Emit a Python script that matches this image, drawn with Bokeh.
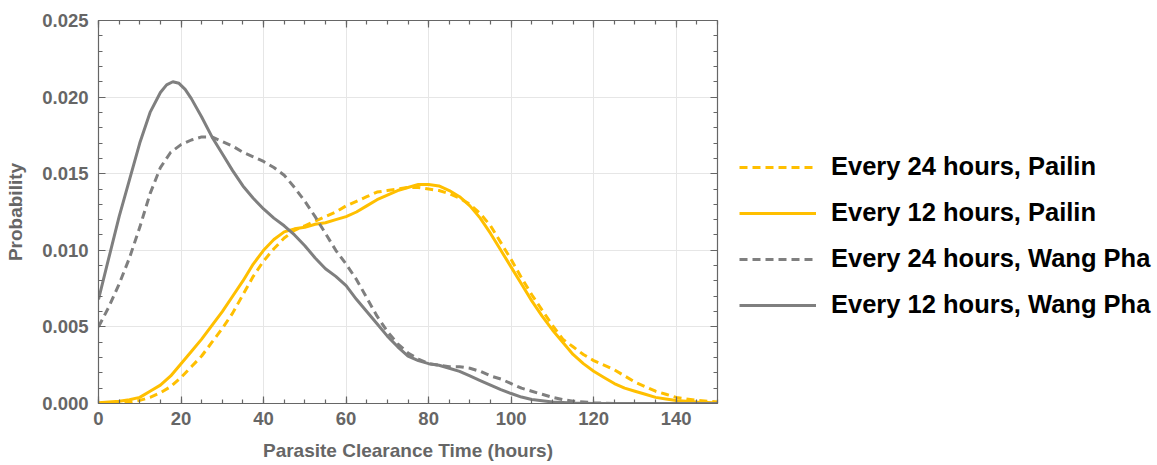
from bokeh.plotting import figure
from bokeh.layouts import row
from bokeh.models import (Range1d, LinearAxis, FixedTicker, PrintfTickFormatter,
                          Legend, LegendItem, CustomLabelingPolicy)
from bokeh.embed import file_html
from bokeh.resources import INLINE

# ---- data ----
t_gray_solid = [0, 2.5, 5, 7.5, 10, 12.5, 15, 16.5, 18, 19.5, 21, 22.5, 25, 27.5, 30, 32.5, 35, 37.5,
                40, 42.5, 45, 47.5, 50, 52.5, 55, 57.5, 60, 62.5, 65, 67.5, 70, 72.5, 75,
                77.5, 80, 82.5, 85, 87.5, 90, 92.5, 95, 97.5, 100, 102.5, 105, 110, 115, 120, 150]
p_gray_solid = [0.0068, 0.0095, 0.0122, 0.0146, 0.0170, 0.0190, 0.0203, 0.0208, 0.0210, 0.0209,
                0.0205, 0.0199,
                0.0187, 0.0174, 0.0163, 0.0152, 0.0142, 0.0134, 0.0127, 0.0121, 0.0116, 0.0110,
                0.0103, 0.0095, 0.0088, 0.0083, 0.0077, 0.0068, 0.0060, 0.0052, 0.0044, 0.0037,
                0.0031, 0.0028, 0.0026, 0.0025, 0.0023, 0.0021, 0.0018, 0.0015, 0.0012, 0.0009,
                0.00065, 0.00042, 0.00026, 0.0001, 0.00003, 0.0, 0.0]

t_gray_dash = [0, 2.5, 5, 7.5, 10, 12.5, 15, 17.5, 20, 22.5, 25, 27.5, 30, 32.5, 35, 37.5, 40,
               42.5, 45, 47.5, 50, 52.5, 55, 57.5, 60, 62.5, 65, 67.5, 70, 72.5, 75, 77.5, 80,
               82.5, 85, 87.5, 90, 92.5, 95, 97.5, 100, 102.5, 105, 107.5, 110, 112.5, 115,
               120, 125, 150]
p_gray_dash = [0.0050, 0.0063, 0.0078, 0.0095, 0.0115, 0.0137, 0.0154, 0.0164, 0.0169, 0.0172,
               0.0174, 0.0174, 0.0171, 0.0168, 0.0164, 0.0161, 0.0158, 0.0154, 0.0149, 0.0141,
               0.0132, 0.0122, 0.0111, 0.0100, 0.0091, 0.0081, 0.0069, 0.0057, 0.0047, 0.0039,
               0.0033, 0.0029, 0.0026, 0.0025, 0.0024, 0.0024, 0.0023, 0.0021, 0.0018, 0.0016,
               0.0013, 0.0010, 0.0008, 0.0006, 0.0004, 0.00025, 0.00015, 0.00005, 0.0, 0.0]

t_yel_solid = [0, 2.5, 5, 7.5, 10, 12.5, 15, 17.5, 20, 22.5, 25, 27.5, 30, 32.5, 35, 37.5, 40,
               42.5, 45, 47.5, 50, 52.5, 55, 57.5, 60, 62.5, 65, 67.5, 70, 72.5, 75, 77.5, 80,
               82.5, 85, 87.5, 90, 92.5, 95, 97.5, 100, 102.5, 105, 107.5, 110, 112.5, 115,
               117.5, 120, 122.5, 125, 127.5, 130, 132.5, 135, 137.5, 140, 145, 150]
p_yel_solid = [0.00005, 0.0001, 0.00015, 0.00025, 0.0004, 0.0008, 0.0012, 0.0018, 0.0026, 0.0034,
               0.0042, 0.0051, 0.0060, 0.0070, 0.0080, 0.0091, 0.0100, 0.0107, 0.0112, 0.0114,
               0.0115, 0.0117, 0.0118, 0.0120, 0.0122, 0.0125, 0.0129, 0.0133, 0.0136, 0.0139,
               0.0141, 0.0143, 0.0143, 0.0142, 0.0139, 0.0135, 0.0129, 0.0121, 0.0111, 0.0100,
               0.0089, 0.0078, 0.0067, 0.0057, 0.0048, 0.0040, 0.0032, 0.0026, 0.0021, 0.0017,
               0.0013, 0.0010, 0.0008, 0.0006, 0.0004, 0.0003, 0.0002, 0.0001, 0.00003]

t_yel_dash = [0, 2.5, 5, 7.5, 10, 12.5, 15, 17.5, 20, 22.5, 25, 27.5, 30, 32.5, 35, 37.5, 40,
              42.5, 45, 47.5, 50, 52.5, 55, 57.5, 60, 62.5, 65, 67.5, 70, 72.5, 75, 77.5, 80,
              82.5, 85, 87.5, 90, 92.5, 95, 97.5, 100, 102.5, 105, 107.5, 110, 112.5, 115,
              117.5, 120, 122.5, 125, 127.5, 130, 132.5, 135, 137.5, 140, 145, 150]
p_yel_dash = [0.0, 0.00002, 0.00005, 0.0001, 0.0002, 0.0004, 0.0007, 0.0011, 0.0017, 0.0024,
              0.0031, 0.0040, 0.0049, 0.0059, 0.0071, 0.0083, 0.0093, 0.0101, 0.0108, 0.0113,
              0.0116, 0.0119, 0.0122, 0.0125, 0.0129, 0.0132, 0.0135, 0.0138, 0.0139, 0.0140,
              0.0141, 0.0141, 0.0140, 0.0139, 0.0137, 0.0134, 0.0130, 0.0124, 0.0116, 0.0105,
              0.0094, 0.0082, 0.0071, 0.0061, 0.0051, 0.0042, 0.0037, 0.0032, 0.0028, 0.0025,
              0.0022, 0.0018, 0.0014, 0.0011, 0.0008, 0.0006, 0.0004, 0.0002, 0.0001]

labels = ["Every 24 hours, Pailin", "Every 12 hours, Pailin",
          "Every 24 hours, Wang Pha", "Every 12 hours, Wang Pha"]
x_major = [0, 20, 40, 60, 80, 100, 120, 140]
x_minor = [v for v in range(0, 151, 5)]
y_major = [0.0, 0.005, 0.010, 0.015, 0.020, 0.025]
y_minor = [i / 1000 for i in range(0, 26)]

YEL = "#FFBF00"
GRAY = "#7F7F7F"
AX = "#666666"
FONT = "Liberation Sans"

series = [(t_yel_dash, p_yel_dash, YEL, "8 5"),
          (t_yel_solid, p_yel_solid, YEL, "solid"),
          (t_gray_dash, p_gray_dash, GRAY, "8 5"),
          (t_gray_solid, p_gray_solid, GRAY, "solid")]

# ---------------- main plot ----------------
p = figure(width=731, height=465, output_backend="svg", toolbar_location=None,
           x_range=Range1d(0, 150), y_range=Range1d(0, 0.025),
           min_border_left=98, min_border_right=14, min_border_top=20, min_border_bottom=62)
p.outline_line_color = None
p.background_fill_color = "white"

for t, v, c, d in series:
    p.line(t, v, color=c, line_width=3, line_dash=d)

hide_all = CustomLabelingPolicy(code="""
const out = [];
for (const i of indices) out.push(i);
for (const i of out) indices.unset(i);
return indices;
""")


def style_axis(ax, ticks, minor, fmt, show_labels):
    ax.ticker = FixedTicker(ticks=ticks, minor_ticks=minor)
    ax.formatter = PrintfTickFormatter(format=fmt)
    ax.axis_line_color = AX
    ax.axis_line_width = 1.2
    ax.major_tick_line_color = AX
    ax.minor_tick_line_color = AX
    ax.major_tick_line_width = 1.2
    ax.minor_tick_line_width = 1.2
    ax.major_tick_in = 7
    ax.major_tick_out = 0
    ax.minor_tick_in = 4
    ax.minor_tick_out = 0
    if show_labels:
        ax.major_label_text_font = FONT
        ax.major_label_text_font_style = "bold"
        ax.major_label_text_font_size = "18.5px"
        ax.major_label_text_color = AX
        ax.axis_label_text_font = FONT
        ax.axis_label_text_font_style = "bold"
        ax.axis_label_text_font_size = "19px"
        ax.axis_label_text_color = AX
    else:
        ax.major_label_policy = hide_all
        ax.major_label_text_font_size = "1px"
        ax.major_label_standoff = 0
        ax.axis_label_standoff = 0


xa = p.xaxis[0]
ya = p.yaxis[0]
style_axis(xa, x_major, x_minor, "%d", True)
style_axis(ya, y_major, y_minor, "%.3f", True)
xa.axis_label = "Parasite Clearance Time (hours)"
ya.axis_label = "Probability"
xa.major_label_standoff = 8
xa.axis_label_standoff = 12
ya.major_label_standoff = 10
ya.axis_label_standoff = 13

top = LinearAxis()
right = LinearAxis()
style_axis(top, x_major, x_minor, "%d", False)
style_axis(right, y_major, y_minor, "%.3f", False)
p.add_layout(top, "above")
p.add_layout(right, "right")

p.xgrid.ticker = FixedTicker(ticks=x_major)
p.ygrid.ticker = FixedTicker(ticks=y_major)
p.xgrid.grid_line_color = "#e6e6e6"
p.ygrid.grid_line_color = "#e6e6e6"

# ---------------- legend panel ----------------
lf = figure(width=426, height=465, output_backend="svg", toolbar_location=None,
            x_range=Range1d(0, 150), y_range=Range1d(0, 0.025),
            x_axis_type=None, y_axis_type=None, min_border=0,
            min_border_left=0, min_border_right=0, min_border_top=0, min_border_bottom=0)
lf.outline_line_color = None
lf.grid.visible = False

items = []
for (t, v, c, d), lab in zip(series, labels):
    r = lf.line(t, v, color=c, line_width=3, line_dash=d, visible=False)
    items.append(LegendItem(label=lab, renderers=[r]))

legend = Legend(items=items, location=(8, 84))
legend.margin = 0
legend.padding = 10
legend.spacing = 17
legend.glyph_width = 77
legend.glyph_height = 28
legend.label_height = 28
legend.label_standoff = 15
legend.label_text_font = FONT
legend.label_text_font_style = "bold"
legend.label_text_font_size = "25.5px"
legend.label_text_color = "black"
legend.border_line_color = None
legend.background_fill_alpha = 0
legend.click_policy = "none"
lf.add_layout(legend, "center")

open("out.html", "w").write(file_html(row(p, lf), INLINE))
